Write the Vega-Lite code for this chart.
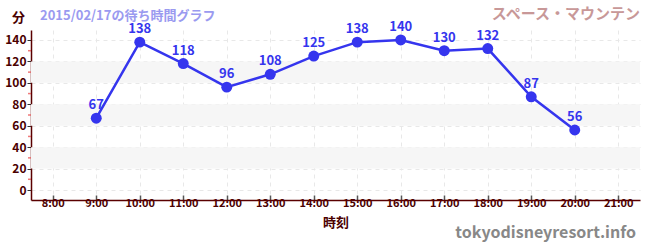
{
  "$schema": "https://vega.github.io/schema/vega-lite/v6.json",
  "autosize": {"type": "none"},
  "width": 609,
  "height": 170,
  "padding": {"left": 31, "top": 30, "right": 10, "bottom": 50},
  "background": "white",
  "config": {
    "font": "Noto Sans CJK JP",
    "view": {"stroke": null},
    "axis": {"labelOverlap": false}
  },
  "datasets": {
    "waits": [
      {"hour": 9, "wait": 67},
      {"hour": 10, "wait": 138},
      {"hour": 11, "wait": 118},
      {"hour": 12, "wait": 96},
      {"hour": 13, "wait": 108},
      {"hour": 14, "wait": 125},
      {"hour": 15, "wait": 138},
      {"hour": 16, "wait": 140},
      {"hour": 17, "wait": 130},
      {"hour": 18, "wait": 132},
      {"hour": 19, "wait": 87},
      {"hour": 20, "wait": 56}
    ],
    "bands": [
      {"lo": 20, "hi": 40},
      {"lo": 60, "hi": 80},
      {"lo": 100, "hi": 120}
    ],
    "minor": [
      {"v": 10}, {"v": 30}, {"v": 50}, {"v": 70}, {"v": 90}, {"v": 110}, {"v": 130}
    ],
    "notes": [
      {"name": "2015/02/17の待ち時間グラフ", "kind": "date"},
      {"name": "スペース・マウンテン", "kind": "ride"},
      {"name": "tokyodisneyresort.info", "kind": "site"}
    ]
  },
  "layer": [
    {
      "data": {"name": "bands"},
      "mark": {"type": "rect", "color": "#f6f6f6"},
      "encoding": {
        "y": {
          "field": "lo", "type": "quantitative",
          "scale": {"domain": [-9.33, 149.33], "nice": false, "zero": false},
          "axis": {
            "values": [0, 20, 40, 60, 80, 100, 120, 140],
            "tickCount": 20,
            "labelOverlap": false,
            "title": "分",
            "titleAngle": 0,
            "titleX": -13,
            "titleY": -13,
            "titleAlign": "center",
            "titleBaseline": "middle",
            "titleFontSize": 13,
            "titleFontWeight": "bold",
            "titleColor": "#4a0000",
            "labelFontSize": 12,
            "labelFontWeight": "bold",
            "labelColor": "#4a0000",
            "labelPadding": 1,
            "domainColor": "#5a0000",
            "domainWidth": 1.5,
            "tickColor": "#333",
            "tickSize": 4,
            "grid": true,
            "gridColor": "#e8e8e8",
            "gridDash": [4, 4]
          }
        },
        "y2": {"field": "hi"}
      }
    },
    {
      "data": {"name": "waits"},
      "mark": {"type": "line", "color": "#3535ee", "strokeWidth": 2.5},
      "encoding": {
        "x": {
          "field": "hour", "type": "quantitative",
          "scale": {"domain": [7.5, 21.5], "nice": false, "zero": false},
          "axis": {
            "values": [8, 9, 10, 11, 12, 13, 14, 15, 16, 17, 18, 19, 20, 21],
            "tickCount": 30,
            "labelExpr": "datum.value + ':00'",
            "labelOverlap": false,
            "title": "時刻",
            "titleFontSize": 13,
            "titleFontWeight": "bold",
            "titleColor": "#4a0000",
            "titlePadding": 8,
            "labelFontSize": 11,
            "labelFontWeight": "bold",
            "labelColor": "#4a0000",
            "labelPadding": 2,
            "domainColor": "#5a0000",
            "domainWidth": 1.5,
            "tickColor": "#555",
            "tickSize": -5,
            "tickWidth": 1.5,
            "grid": true,
            "gridColor": "#e8e8e8",
            "gridDash": [4, 4]
          }
        },
        "y": {"field": "wait", "type": "quantitative"}
      }
    },
    {
      "data": {"name": "minor"},
      "mark": {"type": "tick", "orient": "horizontal", "color": "#e84040", "size": 3, "thickness": 1.5, "xOffset": -1.5, "clip": false},
      "encoding": {
        "x": {"datum": 7.5, "type": "quantitative"},
        "y": {"field": "v", "type": "quantitative"}
      }
    },
    {
      "data": {"name": "waits"},
      "mark": {"type": "point", "filled": true, "opacity": 1, "color": "#3535ee", "size": 120},
      "encoding": {
        "x": {"field": "hour", "type": "quantitative"},
        "y": {"field": "wait", "type": "quantitative"}
      }
    },
    {
      "data": {"name": "waits"},
      "mark": {"type": "text", "color": "#3535ee", "fontSize": 13, "fontWeight": "bold", "dy": -6, "baseline": "bottom"},
      "encoding": {
        "x": {"field": "hour", "type": "quantitative"},
        "y": {"field": "wait", "type": "quantitative"},
        "text": {"field": "wait", "type": "quantitative"}
      }
    },
    {
      "data": {"name": "notes"},
      "transform": [{"filter": "datum.kind == 'date'"}],
      "mark": {"type": "text", "color": "#9a9af0", "fontSize": 13, "fontWeight": "bold", "align": "left", "baseline": "middle", "dx": 9, "dy": -14, "clip": false},
      "encoding": {
        "x": {"datum": 7.5, "type": "quantitative"},
        "y": {"datum": 149.33, "type": "quantitative"},
        "text": {"field": "name"}
      }
    },
    {
      "data": {"name": "notes"},
      "transform": [{"filter": "datum.kind == 'ride'"}],
      "mark": {"type": "text", "color": "#c89898", "fontSize": 15, "fontWeight": "bold", "align": "right", "baseline": "middle", "dy": -16, "clip": false},
      "encoding": {
        "x": {"datum": 21.5, "type": "quantitative"},
        "y": {"datum": 149.33, "type": "quantitative"},
        "text": {"field": "name"}
      }
    },
    {
      "data": {"name": "notes"},
      "transform": [{"filter": "datum.kind == 'site'"}],
      "mark": {"type": "text", "color": "#888888", "fontSize": 16, "fontWeight": "bold", "align": "right", "baseline": "middle", "dx": -4, "dy": 33, "clip": false},
      "encoding": {
        "x": {"datum": 21.5, "type": "quantitative"},
        "y": {"datum": -9.33, "type": "quantitative"},
        "text": {"field": "name"}
      }
    }
  ]
}
